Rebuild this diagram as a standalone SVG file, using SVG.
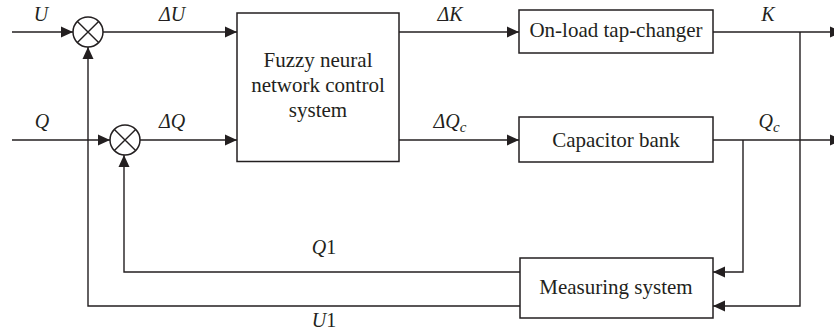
<svg xmlns="http://www.w3.org/2000/svg" width="834" height="334" viewBox="0 0 834 334">
<style>
.ln{fill:none;stroke:#231f20;stroke-width:1.4}
.bx{fill:#fff;stroke:#231f20;stroke-width:1.5}
.t{font-family:"Liberation Serif",serif;font-size:21px;fill:#231f20;text-anchor:middle}
.l{font-family:"Liberation Serif",serif;font-size:20px;font-style:italic;fill:#231f20;text-anchor:middle}
.up{font-style:normal}
</style>
<defs>
<marker id="ah" viewBox="0 0 12 12" refX="12" refY="6" markerWidth="12" markerHeight="12" markerUnits="userSpaceOnUse" orient="auto">
<path d="M0,0.5 L12,6 L0,11.5 z" fill="#231f20"/>
</marker>
</defs>
<g id="connectors">
<path class="ln" d="M12,32 H73" marker-end="url(#ah)"/>
<path class="ln" d="M12,140 H110" marker-end="url(#ah)"/>
<path class="ln" d="M103,32 H237" marker-end="url(#ah)"/>
<path class="ln" d="M140,140 H237" marker-end="url(#ah)"/>
<path class="ln" d="M399,32 H519" marker-end="url(#ah)"/>
<path class="ln" d="M399,140 H519" marker-end="url(#ah)"/>
<path class="ln" d="M713,32 H842" marker-end="url(#ah)"/>
<path class="ln" d="M713,140 H842" marker-end="url(#ah)"/>
<path class="ln" d="M743,140 V272 H713" marker-end="url(#ah)"/>
<path class="ln" d="M800,32 V306 H713" marker-end="url(#ah)"/>
<path class="ln" d="M520,272 H124 V155" marker-end="url(#ah)"/>
<path class="ln" d="M520,306 H88 V47" marker-end="url(#ah)"/>
<text class="l" x="41" y="21">U</text>
<text class="l" x="42" y="128">Q</text>
<text class="l" x="172" y="21">ΔU</text>
<text class="l" x="172" y="128">ΔQ</text>
<text class="l" x="450" y="21">ΔK</text>
<text class="l" x="450" y="128">ΔQ<tspan font-size="15" dy="4">c</tspan></text>
<text class="l" x="768" y="21">K</text>
<text class="l" x="769" y="128">Q<tspan font-size="15" dy="4">c</tspan></text>
<text class="l" x="324" y="254">Q<tspan class="up">1</tspan></text>
<text class="l" x="324" y="327">U<tspan class="up">1</tspan></text>
</g>
<g id="sum1">
<circle class="bx" cx="88" cy="32" r="15"/>
<path class="ln" d="M77.4,21.4 L98.6,42.6 M98.6,21.4 L77.4,42.6"/>
</g>
<g id="sum2">
<circle class="bx" cx="125" cy="140" r="15"/>
<path class="ln" d="M114.4,129.4 L135.6,150.6 M135.6,129.4 L114.4,150.6"/>
</g>
<g id="fuzzy">
<rect class="bx" x="237" y="13" width="162" height="148.5"/>
<text class="t" x="318" y="67">Fuzzy neural</text>
<text class="t" x="318" y="92">network control</text>
<text class="t" x="318" y="117">system</text>
</g>
<g id="oltc">
<rect class="bx" x="519" y="10" width="194" height="43"/>
<text class="t" x="616" y="37">On-load tap-changer</text>
</g>
<g id="capbank">
<rect class="bx" x="519" y="117" width="194" height="45"/>
<text class="t" x="616" y="147">Capacitor bank</text>
</g>
<g id="measuring">
<rect class="bx" x="520" y="258" width="193" height="60"/>
<text class="t" x="616" y="294">Measuring system</text>
</g>
</svg>
